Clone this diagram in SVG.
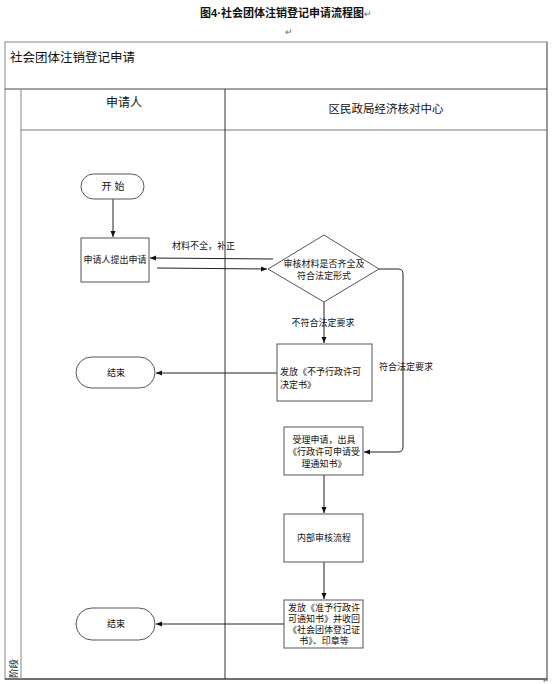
<svg xmlns="http://www.w3.org/2000/svg" width="552" height="684" viewBox="0 0 552 684">
<style>
text{font-family:"Liberation Sans","Noto Sans CJK SC",sans-serif;fill:#111}
.s{font-size:9px}
.m{text-anchor:middle}
.box{fill:#fff;stroke:#555;stroke-width:1}
.con{fill:none;stroke:#222;stroke-width:1}
.mark{font-size:9px;fill:#666}
</style>
<defs>
<marker id="ah" markerWidth="8" markerHeight="8" refX="7" refY="4" orient="auto" markerUnits="userSpaceOnUse">
<path d="M1,1.5 L7,4 L1,6.5 z" fill="#111"/>
</marker>
</defs>
<rect width="552" height="684" fill="#fff"/>
<g id="title">
<text x="286" y="17" class="m" style="font-size:11px;font-weight:bold">图4·社会团体注销登记申请流程图<tspan class="mark" style="font-weight:normal">↵</tspan></text>
<text x="289" y="35" class="mark m">↵</text>
</g>
<g id="pool">
<rect x="5" y="42" width="542" height="637" fill="none" stroke="#999" stroke-width="1.2"/>
<line x1="547" y1="42" x2="547" y2="679" stroke="#999" stroke-width="2"/>
<line x1="5" y1="679" x2="547" y2="679" stroke="#555" stroke-width="1.5"/>
<line x1="5" y1="89" x2="547" y2="89" stroke="#444" stroke-width="1"/>
<line x1="21" y1="89" x2="21" y2="679" stroke="#999" stroke-width="1.2"/>
<line x1="21" y1="130" x2="547" y2="130" stroke="#777" stroke-width="1"/>
<line x1="225" y1="89" x2="225" y2="679" stroke="#333" stroke-width="1"/>
<text x="10" y="62" style="font-size:12.5px">社会团体注销登记申请</text>
<text x="124" y="107" class="m" style="font-size:12px">申请人</text>
<text x="386" y="113" class="m" style="font-size:11.5px">区民政局经济核对中心</text>
<text transform="translate(17,678) rotate(-90)" style="font-size:9.5px">阶段</text>
<text x="543" y="683" class="mark" style="font-size:6.5px">↵</text>
</g>
<g id="connectors">
<line class="con" x1="113" y1="199" x2="113" y2="237" marker-end="url(#ah)"/>
<line class="con" x1="157" y1="268" x2="267" y2="269" marker-end="url(#ah)"/>
<line class="con" x1="273" y1="259" x2="150" y2="258" marker-end="url(#ah)"/>
<line class="con" x1="324" y1="302" x2="324" y2="343" marker-end="url(#ah)"/>
<line class="con" x1="277" y1="373" x2="156" y2="373" marker-end="url(#ah)"/>
<path class="con" d="M379,269 H398 Q403,269 403,274 V447 Q403,452 398,452 H364" marker-end="url(#ah)"/>
<line class="con" x1="324" y1="475" x2="324" y2="513" marker-end="url(#ah)"/>
<line class="con" x1="324" y1="562" x2="324" y2="599" marker-end="url(#ah)"/>
<line class="con" x1="284" y1="624" x2="156" y2="624" marker-end="url(#ah)"/>
<text x="172" y="249" class="s">材料不全，补正</text>
<text x="323" y="326" class="s m">不符合法定要求</text>
<text x="379" y="370" class="s">符合法定要求</text>
</g>
<g id="start">
<rect class="box" x="81" y="174" width="63" height="25" rx="12.5"/>
<text x="113" y="190" class="m" style="font-size:10px">开 始</text>
</g>
<g id="submit">
<rect class="box" x="81" y="238" width="68" height="44"/>
<text x="115" y="263" class="s m">申请人提出申请</text>
</g>
<g id="review">
<polygon class="box" points="324,235 379,269 324,302 268,269"/>
<text x="324" y="267" class="s m">审核材料是否齐全及</text>
<text x="324" y="279" class="s m">符合法定形式</text>
</g>
<g id="reject">
<rect class="box" x="277" y="344" width="95" height="57"/>
<text x="280" y="375" class="s">发放《不予行政许可</text>
<text x="280" y="388" class="s">决定书》</text>
</g>
<g id="end1">
<rect class="box" x="76" y="357" width="79" height="31" rx="15.5"/>
<text x="116" y="376" class="s m">结束</text>
</g>
<g id="accept">
<rect class="box" x="284" y="427" width="79" height="48"/>
<text x="324" y="443" class="s m">受理申请，出具</text>
<text x="324" y="455" class="s m">《行政许可申请受</text>
<text x="324" y="467" class="s m">理通知书》</text>
</g>
<g id="internal">
<rect class="box" x="284" y="514" width="79" height="48"/>
<text x="324" y="541" class="s m">内部审核流程</text>
</g>
<g id="approve">
<rect class="box" x="284" y="600" width="79" height="48"/>
<text x="324" y="611" class="s m">发放《准予行政许</text>
<text x="324" y="622" class="s m">可通知书》并收回</text>
<text x="324" y="633" class="s m">《社会团体登记证</text>
<text x="324" y="644" class="s m">书》、印章等</text>
</g>
<g id="end2">
<rect class="box" x="76" y="608" width="79" height="32" rx="16"/>
<text x="116" y="627" class="s m">结束</text>
</g>
</svg>
